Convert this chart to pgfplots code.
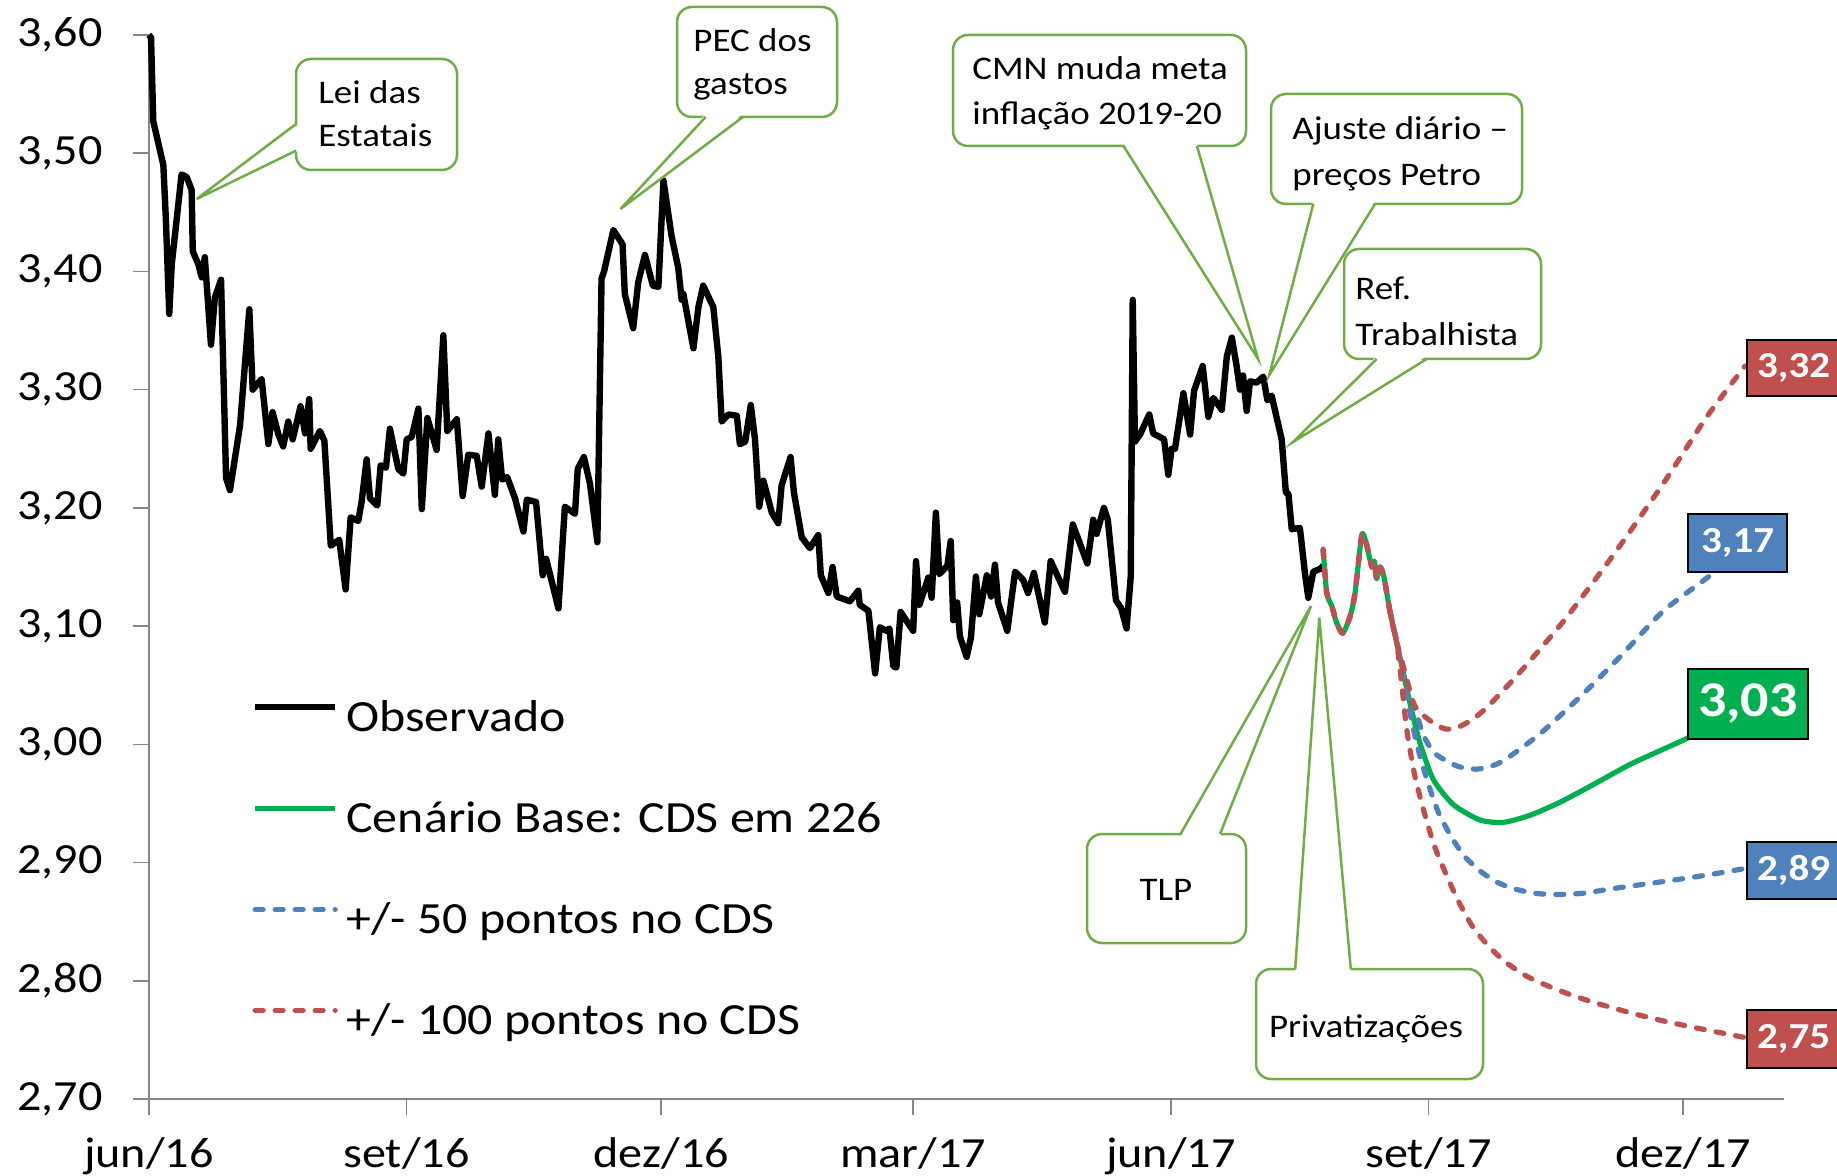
\documentclass[border=0pt]{standalone}
\usepackage{fontspec}
\setmainfont{Carlito}[FakeStretch=1.12]
\usepackage{pgfplots}
\pgfplotsset{compat=1.18}
\definecolor{basegreen}{HTML}{00B050}
\definecolor{myblue}{HTML}{4F81BD}
\definecolor{myred}{HTML}{C0504D}
\definecolor{callgreen}{HTML}{70AD47}
\definecolor{axgray}{HTML}{868686}
\begin{document}
\begin{tikzpicture}
\useasboundingbox (-74.4pt,-38pt) rectangle (844.1pt,549.5pt);
\fill[white] (-74.4pt,-38pt) rectangle (844.1pt,549.5pt);
\begin{axis}[
  at={(0pt,0pt)}, anchor=south west,
  scale only axis, width=817.6pt, height=532pt,
  xmin=0, xmax=584, ymin=2.70, ymax=3.60,
  clip=false,
  axis x line=bottom, axis y line=left,
  axis line style={-, draw=axgray, line width=0.75pt},
  tick align=outside, major tick length=8pt,
  tick style={draw=axgray, line width=0.75pt},
  xtick={0,92,183,273,365,457,548},
  xticklabels={jun/16,set/16,dez/16,mar/17,jun/17,set/17,dez/17},
  ytick={2.7,2.8,2.9,3.0,3.1,3.2,3.3,3.4,3.5,3.6},
  /pgf/number format/fixed,
  /pgf/number format/fixed zerofill,
  /pgf/number format/precision=2,
  /pgf/number format/use comma,
  /pgf/number format/assume math mode=true,
  ticklabel style={font=\fontsize{21.5}{24}\selectfont, inner sep=0pt},
  yticklabel style={xshift=-15pt},
  xticklabel style={yshift=-11pt},
  legend cell align=left,
  legend style={at={(axis description cs:0.0631,0.3712)}, anchor=north west,
    draw=none, fill=none, inner sep=0pt, outer sep=0pt, row sep=33.25pt,
    font=\fontsize{22.3}{26}\selectfont,
    nodes={inner sep=0pt, text height=12pt, text depth=4pt},
    /tikz/every odd column/.append style={column sep=4pt}},
  legend image code/.code={\draw[#1] (0pt,8pt) -- (40pt,8pt);},
  dashline/.style={line width=2.6pt, dash pattern=on 4pt off 6pt, line cap=round, line join=round, smooth, tension=0.4},
]
\addplot[black, line width=3.2pt, line join=round] coordinates {
(0,3.600) (0.8,3.598) (1.6,3.527) (5.2,3.490) (6.1,3.444) (7.3,3.364) (8.2,3.406)
(11.7,3.482) (13.5,3.480) (15.3,3.469) (15.7,3.417) (17.7,3.406) (18.9,3.395) (20,3.412)
(22.2,3.338) (23.6,3.378) (25.8,3.393) (27.6,3.225) (29,3.215) (32.6,3.270) (35.9,3.368)
(37.1,3.300) (40.3,3.309) (42.7,3.254) (44.2,3.281) (46.3,3.262) (48,3.252) (49.8,3.273)
(51.4,3.258) (54.2,3.286) (55.8,3.263) (57.3,3.292) (57.8,3.250) (61.1,3.265) (62.7,3.257)
(65,3.168) (68,3.173) (70.3,3.131) (72.1,3.192) (74.8,3.189) (76,3.205) (77.8,3.241)
(79,3.208) (81.6,3.202) (82.8,3.236) (84.7,3.234) (86.1,3.267) (89.1,3.233) (90.9,3.229)
(92.1,3.258) (93.9,3.260) (96.3,3.284) (97.5,3.199) (99.5,3.276) (102.8,3.249) (105.2,3.346)
(106.6,3.265) (110,3.275) (112.1,3.210) (114.1,3.245) (117.1,3.244) (118.9,3.218) (121.3,3.263)
(123.6,3.211) (124.8,3.258) (126.2,3.224) (128,3.226) (130.8,3.208) (133.8,3.180) (135,3.207)
(138.3,3.205) (140.7,3.143) (141.9,3.157) (146.3,3.115) (148.6,3.201) (152.2,3.195) (153.2,3.233)
(155.4,3.243) (157.6,3.220) (160.2,3.171) (161.7,3.394) (162.6,3.400) (165.9,3.435) (169.2,3.423)
(170,3.381) (173,3.352) (174.8,3.391) (177.2,3.414) (180,3.388) (182,3.387) (183.8,3.477)
(186.7,3.430) (189.1,3.403) (190.3,3.376) (190.9,3.381) (194.5,3.335) (196.3,3.370) (198,3.388)
(201.6,3.370) (203.4,3.328) (204.6,3.273) (207,3.279) (210,3.278) (211.1,3.254) (213,3.256)
(215,3.287) (216.5,3.258) (218,3.201) (219.5,3.223) (222.5,3.196) (224.8,3.187) (226,3.219)
(229.2,3.243) (230.4,3.213) (233.2,3.175) (236.1,3.166) (239.1,3.177) (240,3.143) (242.7,3.128)
(244.2,3.150) (245.7,3.125) (250.4,3.121) (253.4,3.130) (253.9,3.118) (257,3.113) (259.4,3.060)
(261.1,3.099) (263.5,3.096) (264.5,3.098) (265.9,3.066) (267,3.065) (268.5,3.112) (273,3.096)
(274,3.155) (275.2,3.118) (278.4,3.141) (279.6,3.124) (281.1,3.196) (282.3,3.144) (285.2,3.151)
(286.4,3.172) (287.3,3.105) (288.7,3.120) (289.7,3.091) (292.1,3.074) (293.6,3.090) (295.4,3.142)
(296.6,3.110) (299.3,3.143) (300.8,3.125) (302.2,3.152) (303.3,3.120) (306.6,3.096) (309.4,3.146)
(312.3,3.139) (314,3.128) (316.1,3.145) (320,3.103) (322.1,3.155) (327.2,3.129) (330,3.186)
(335.2,3.153) (337.3,3.190) (338.5,3.178) (341.1,3.200) (342.5,3.190) (345.4,3.122) (347.3,3.115)
(349.2,3.098) (350.7,3.142) (351.4,3.376) (352.2,3.256) (354,3.262) (357.3,3.279) (358.7,3.263)
(362.6,3.258) (364.1,3.228) (365.3,3.250) (366.5,3.250) (369.5,3.297) (371.9,3.262) (373.3,3.299)
(376.4,3.320) (378.4,3.277) (380.2,3.293) (383.2,3.283) (385,3.328) (386.8,3.344) (388.5,3.320)
(389.7,3.300) (390.8,3.312) (392.1,3.282) (393.3,3.307) (395.7,3.306) (398,3.311) (399.5,3.291)
(401,3.295) (404.6,3.258) (406.1,3.213) (407,3.212) (408.2,3.182) (411.1,3.183) (412.9,3.145)
(414.1,3.124) (415.9,3.146) (418.9,3.149) (419.4,3.152)
};
\addlegendentry{Observado}
\addplot[basegreen, line width=2.6pt, line join=round, smooth, tension=0.4] coordinates {
(419.4,3.165) (420.7,3.128) (422.5,3.117) (424.2,3.103) (426.4,3.094) (429,3.108) (430.8,3.128)
(433.2,3.177) (434.8,3.170) (436.8,3.150) (437.7,3.155) (438.5,3.140) (439.7,3.150) (441.1,3.142)
(443.3,3.112) (445.7,3.086)
(448,3.061) (450.4,3.035) (454,3.001) (458.8,2.970) (465.9,2.949) (475.4,2.936) (483.8,2.934)
(493.3,2.940) (504,2.951) (515.9,2.966) (529,2.983) (541,2.996) (549.3,3.005) (570.1,3.030)
};
\addlegendentry{Cenário Base: CDS em 226}
\addplot[myblue, dashline] coordinates {
(419.4,3.165) (420.7,3.128) (422.5,3.117) (424.2,3.103) (426.4,3.094) (429,3.108) (430.8,3.128)
(433.2,3.177) (434.8,3.170) (436.8,3.150) (437.7,3.155) (438.5,3.140) (439.7,3.150) (441.1,3.142)
(443.3,3.112) (445.7,3.086)
(448,3.066) (451,3.040) (455.2,3.008) (459,2.993) (463.5,2.986) (468,2.981) (474.3,2.979)
(480,2.982) (485,2.988) (496.9,3.009) (511.1,3.040) (525.4,3.074) (541,3.113) (558.8,3.145) (570.1,3.170)
};
\addlegendentry{+/- 50 pontos no CDS}
\addplot[myblue, dashline, forget plot] coordinates {
(443.3,3.112) (445.7,3.086)
(448,3.058) (451,3.020) (454,2.990) (457.6,2.962) (461,2.940) (465.9,2.919) (470,2.905)
(475.4,2.893) (481,2.884) (487.3,2.878) (495,2.874) (502.8,2.873) (512,2.874) (523,2.878)
(535,2.882) (546.9,2.886) (558,2.890) (570.1,2.895)
};
\addplot[myred, dashline] coordinates {
(419.4,3.165) (420.7,3.128) (422.5,3.117) (424.2,3.103) (426.4,3.094) (429,3.108) (430.8,3.128)
(433.2,3.177) (434.8,3.170) (436.8,3.150) (437.7,3.155) (438.5,3.140) (439.7,3.150) (441.1,3.142)
(443.3,3.112) (445.7,3.086)
(447.5,3.070) (451.6,3.035) (455,3.025) (458.8,3.018) (463,3.013) (467.1,3.014) (472,3.020)
(477.8,3.031) (489.7,3.061) (505.2,3.104) (523,3.160) (541,3.221) (556.4,3.277) (570.1,3.320)
};
\addlegendentry{+/- 100 pontos no CDS}
\addplot[myred, dashline, forget plot] coordinates {
(443.3,3.112) (445.7,3.086)
(447.5,3.050) (449.3,3.012) (452,2.975) (455.2,2.945) (459,2.915) (463.5,2.889) (468,2.866)
(473,2.845) (479,2.828) (485,2.815) (492,2.804) (499.3,2.796) (508,2.788) (517.1,2.781)
(529,2.773) (541,2.766) (555,2.759) (570.1,2.752)
};
\tikzset{vlab/.style={draw=black, line width=1pt, text=white, anchor=west, inner xsep=5pt,
  font=\bfseries\fontsize{18.3}{20}\selectfont}}
\node[vlab, fill=myred, minimum height=28pt] at (axis cs:570.5,3.318) {3,32};
\node[vlab, fill=myblue, minimum height=29pt, minimum width=49.5pt] at (axis cs:549.4,3.170) {3,17};
\node[vlab, fill=basegreen, minimum height=35pt, minimum width=59pt, font=\bfseries\fontsize{25}{28}\selectfont] at (axis cs:549.4,3.0345) {3,03};
\node[vlab, fill=myblue, minimum height=28.5pt] at (axis cs:570.5,2.893) {2,89};
\node[vlab, fill=myred, minimum height=29pt] at (axis cs:570.5,2.751) {2,75};
\end{axis}
% callouts, in pixel units of the reference
\begin{scope}[x=0.5pt, y=-0.5pt, shift={(-74.4pt,549.5pt)},
  cbox/.style={draw=callgreen, fill=white, line width=1.25pt, rounded corners=7.5pt},
  ctail/.style={draw=callgreen, line width=1.25pt},
  ctext/.style={font=\fontsize{16.5}{21.5}\selectfont, inner sep=0pt}]
% Lei das Estatais
\draw[cbox] (296,59) rectangle (457,170);
\fill[white] (299,124) -- (196.7,199) -- (299,150.7) -- cycle;
\draw[ctail] (296,124) -- (196.7,199) -- (296,150.7);
\node[ctext, anchor=base west] at (318,104) {Lei das};
\node[ctext, anchor=base west] at (318,147) {Estatais};
% PEC dos gastos
\draw[cbox] (677,7) rectangle (837,117);
\fill[white] (705.6,114) -- (620.5,209) -- (742.9,114) -- cycle;
\draw[ctail] (705.6,117) -- (620.5,209) -- (742.9,117);
\node[ctext, anchor=base west] at (693,52) {PEC dos};
\node[ctext, anchor=base west] at (693,95) {gastos};
% CMN
\draw[cbox] (953,35) rectangle (1246,146);
\fill[white] (1123.5,143) -- (1258,359) -- (1197,143) -- cycle;
\draw[ctail] (1123.5,146) -- (1258,359) -- (1197,146);
\node[ctext, anchor=base west] at (972,80) {CMN muda meta};
\node[ctext, anchor=base west] at (972,125) {inflação 2019-20};
% Ajuste
\draw[cbox] (1271,94) rectangle (1522,204);
\fill[white] (1313.3,201) -- (1269.3,375) -- (1375,201) -- cycle;
\draw[ctail] (1313.3,204) -- (1269.3,375) -- (1375,204);
\node[ctext, anchor=base west] at (1292,140) {Ajuste diário –};
\node[ctext, anchor=base west] at (1292,186) {preços Petro};
% Ref Trabalhista
\draw[cbox] (1344,249) rectangle (1541,359);
\fill[white] (1376.7,356) -- (1293,442) -- (1426.7,356) -- cycle;
\draw[ctail] (1376.7,359) -- (1293,442) -- (1426.7,359);
\node[ctext, anchor=base west] at (1355,300) {Ref.};
\node[ctext, anchor=base west] at (1355,345) {Trabalhista};
% TLP
\draw[cbox] (1087,834) rectangle (1246,943);
\fill[white] (1180.5,837) -- (1311,606) -- (1220,837) -- cycle;
\draw[ctail] (1180.5,834) -- (1311,606) -- (1220,834);
\node[ctext, anchor=base] at (1166,900) {TLP};
% Privatizacoes
\draw[cbox] (1256,969) rectangle (1483,1079);
\fill[white] (1295.2,972) -- (1319.3,617.7) -- (1350.8,972) -- cycle;
\draw[ctail] (1295.2,969) -- (1319.3,617.7) -- (1350.8,969);
\node[ctext, anchor=base] at (1366,1037) {Privatizações};
\end{scope}
\end{tikzpicture}
\end{document}
